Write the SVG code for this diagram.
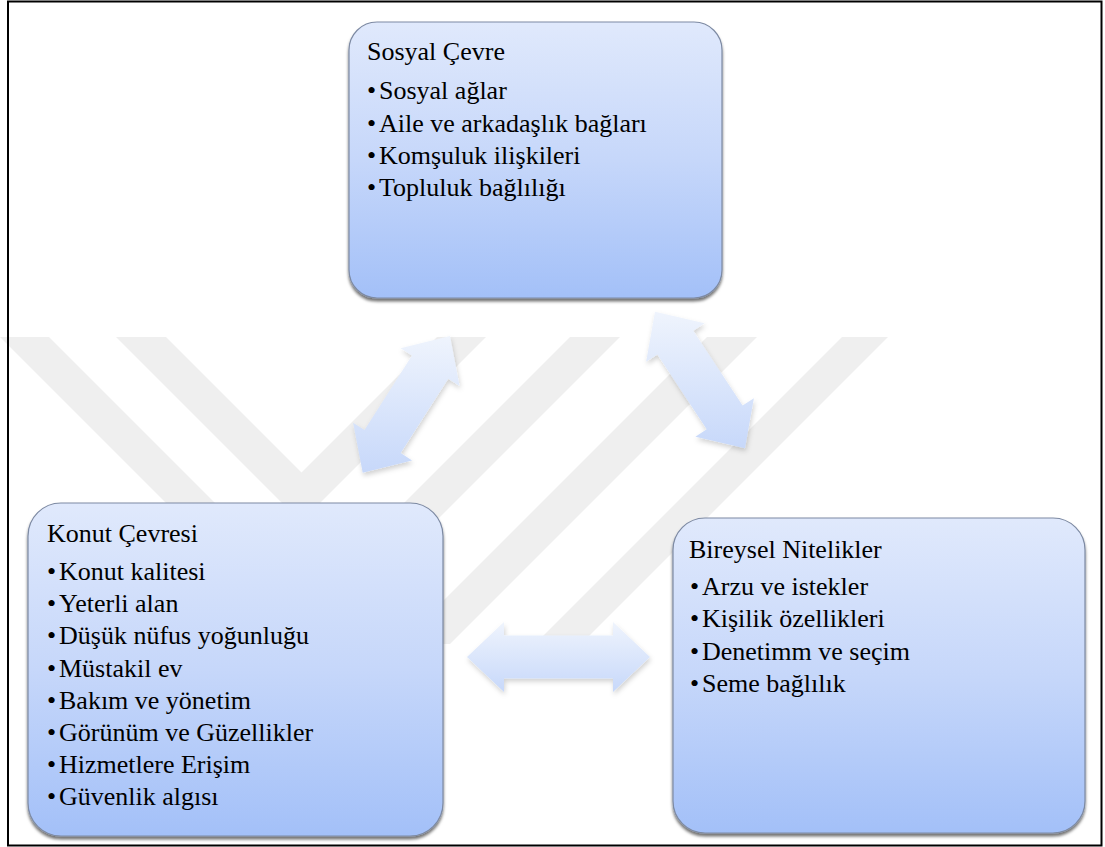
<svg xmlns="http://www.w3.org/2000/svg" width="1105" height="847" viewBox="0 0 1105 847">
<defs>
<linearGradient id="boxg" x1="0" y1="0" x2="0" y2="1">
<stop offset="0" stop-color="#e0e9fc"/>
<stop offset="0.5" stop-color="#c6d7fa"/>
<stop offset="1" stop-color="#a3c0f8"/>
</linearGradient>
<linearGradient id="arrg" x1="0" y1="0" x2="0" y2="1">
<stop offset="0" stop-color="#eff4fd"/>
<stop offset="1" stop-color="#c7d8fa"/>
</linearGradient>
<filter id="boxsh" x="-5%" y="-5%" width="110%" height="115%">
<feDropShadow dx="0" dy="3" stdDeviation="1.6" flood-color="#000" flood-opacity="0.55"/>
</filter>
<filter id="arrsh" x="-10%" y="-10%" width="130%" height="130%">
<feDropShadow dx="1" dy="3" stdDeviation="2.5" flood-color="#000" flood-opacity="0.18"/>
</filter>
</defs>
<style>
.box{fill:url(#boxg);stroke:#7d8aa3;stroke-width:1.2;filter:url(#boxsh)}
.arr{fill:url(#arrg);stroke:none;filter:url(#arrsh)}
.t{font-family:'Liberation Serif','Times New Roman',Times,'DejaVu Serif',serif;font-size:26px;fill:#000}
.wm{fill:#efefef}
</style>
<rect x="0" y="0" width="1105" height="847" fill="#ffffff"/>
<g id="watermark">
<polygon class="wm" points="116,337 301,522 486,337 437,337 301.5,472.5 166,337"/>
<polygon class="wm" points="0,337 310,647 620,337 570,337 309.5,597.5 49,337"/>
<polygon class="wm" points="707,337 757,337 450,644 400,644"/>
<polygon class="wm" points="842,337 888,337 580,645 534,645"/>
</g>
<rect x="8" y="1.5" width="1093.5" height="844" fill="none" stroke="#000" stroke-width="2"/>
<g id="connectors">
<polygon class="arr" points="362.7,472.7 353.1,422.7 364.5,430 412,355.6 400.6,348.3 450,336 459.6,386 448.2,378.8 400.7,453.1 412.1,460.4"/>
<polygon class="arr" points="655,311.7 646.1,361.8 657.4,354.4 706.7,429.2 695.4,436.7 745,448.3 753.9,398.2 742.6,405.6 693.3,330.8 704.6,323.3"/>
<polygon class="arr" points="467,657 504,622 504,635.5 613,635.5 613,622 650,657 613,692 613,678.5 504,678.5 504,692"/>
</g>
<g id="sosyal">
<rect class="box" x="349" y="22" width="373" height="276" rx="28" ry="28"/>
<text class="t"><tspan x="367" y="60">Sosyal Çevre</tspan></text>
<text class="t">
<tspan x="367" y="99">•</tspan><tspan x="379" y="99">Sosyal ağlar</tspan>
<tspan x="367" y="131.5">•</tspan><tspan x="379" y="131.5">Aile ve arkadaşlık bağları</tspan>
<tspan x="367" y="163.5">•</tspan><tspan x="379" y="163.5">Komşuluk ilişkileri</tspan>
<tspan x="367" y="195.5">•</tspan><tspan x="379" y="195.5">Topluluk bağlılığı</tspan>
</text>
</g>
<g id="konut">
<rect class="box" x="28" y="503" width="415" height="333" rx="33" ry="33"/>
<text class="t"><tspan x="47" y="542">Konut Çevresi</tspan></text>
<text class="t">
<tspan x="47" y="580">•</tspan><tspan x="59" y="580">Konut kalitesi</tspan>
<tspan x="47" y="612">•</tspan><tspan x="59" y="612">Yeterli alan</tspan>
<tspan x="47" y="644">•</tspan><tspan x="59" y="644">Düşük nüfus yoğunluğu</tspan>
<tspan x="47" y="676.5">•</tspan><tspan x="59" y="676.5">Müstakil ev</tspan>
<tspan x="47" y="708.5">•</tspan><tspan x="59" y="708.5">Bakım ve yönetim</tspan>
<tspan x="47" y="741">•</tspan><tspan x="59" y="741">Görünüm ve Güzellikler</tspan>
<tspan x="47" y="773">•</tspan><tspan x="59" y="773">Hizmetlere Erişim</tspan>
<tspan x="47" y="805">•</tspan><tspan x="59" y="805">Güvenlik algısı</tspan>
</text>
</g>
<g id="bireysel">
<rect class="box" x="673" y="518" width="412" height="315" rx="32" ry="32"/>
<text class="t"><tspan x="689" y="558">Bireysel Nitelikler</tspan></text>
<text class="t">
<tspan x="690" y="595">•</tspan><tspan x="702" y="595">Arzu ve istekler</tspan>
<tspan x="690" y="627">•</tspan><tspan x="702" y="627">Kişilik özellikleri</tspan>
<tspan x="690" y="659.5">•</tspan><tspan x="702" y="659.5">Denetimm ve seçim</tspan>
<tspan x="690" y="692">•</tspan><tspan x="702" y="692">Seme bağlılık</tspan>
</text>
</g>
</svg>
